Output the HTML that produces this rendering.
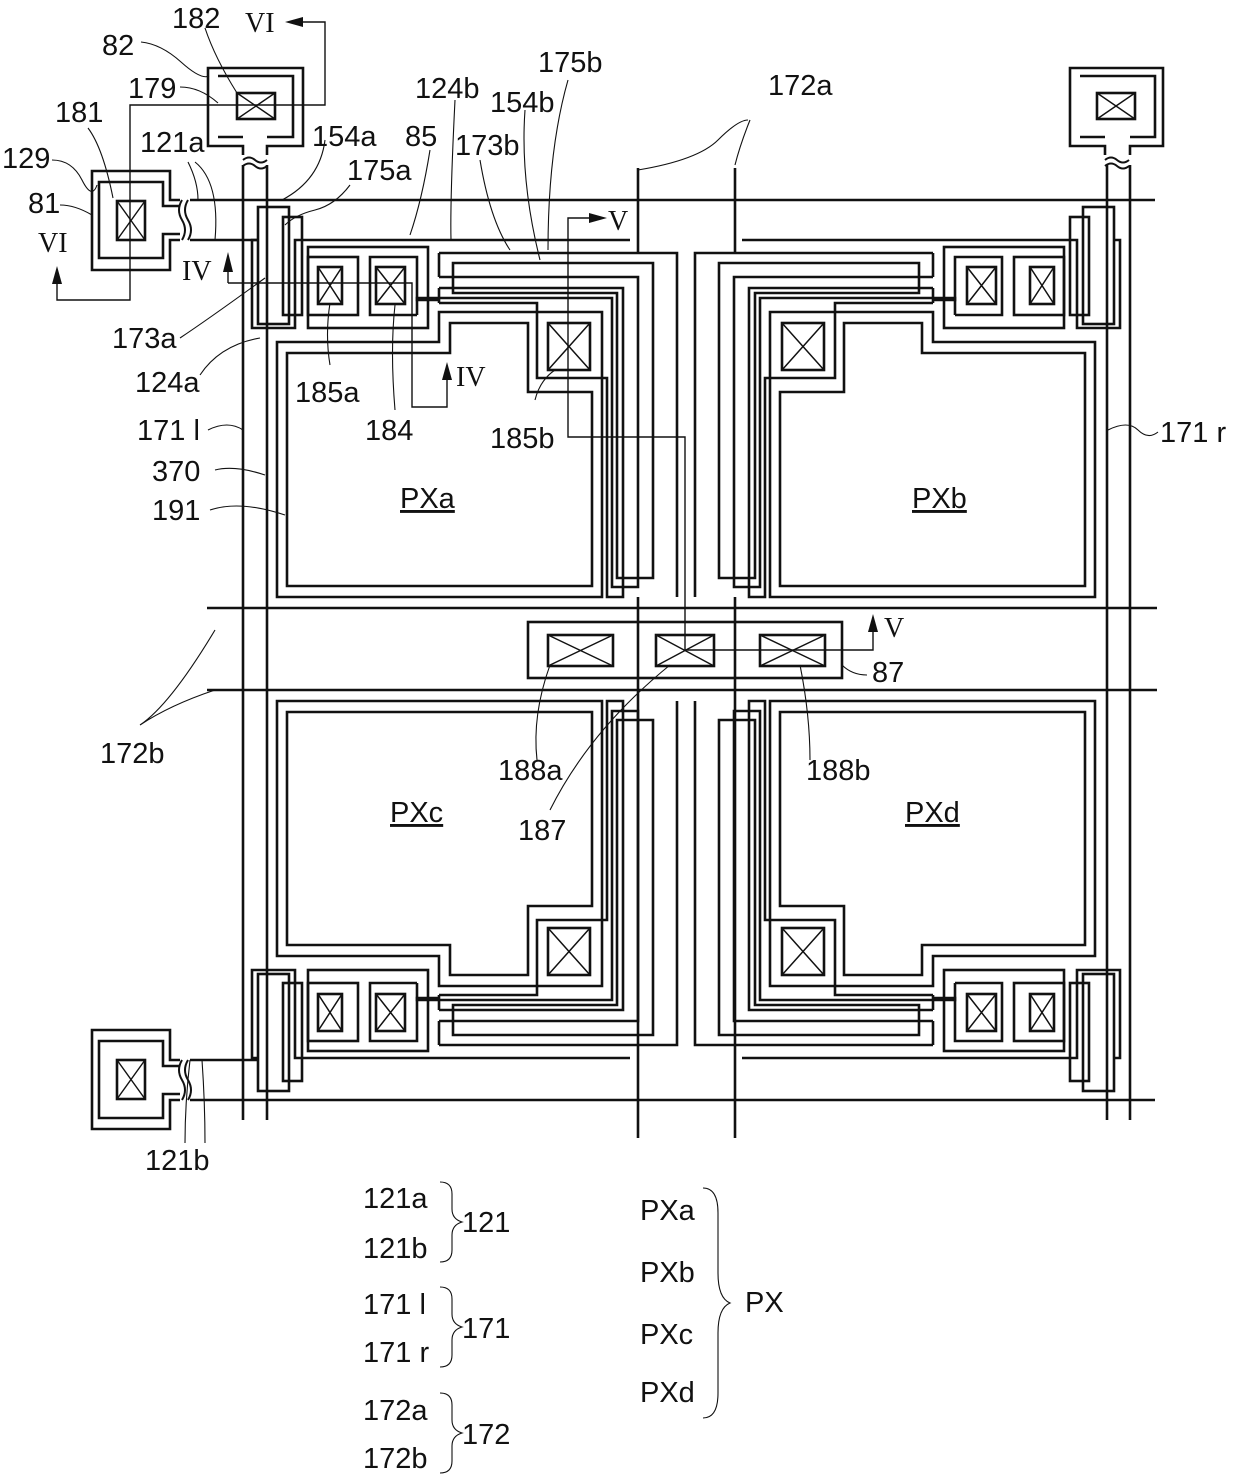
<!DOCTYPE html>
<html><head><meta charset="utf-8"><style>
html,body{margin:0;padding:0;background:#fff}
svg{display:block}
text{font-family:"Liberation Sans Narrow","Liberation Sans",sans-serif;font-size:29px;fill:#111}
.s{font-family:"Liberation Serif",serif;font-size:28px}
</style></head><body>
<svg width="1240" height="1479" viewBox="0 0 1240 1479" xmlns="http://www.w3.org/2000/svg">
<defs>
<g id="A" fill="none" stroke="#111" stroke-width="2.6">
  <polygon points="277,342 439,342 439,312 602,312 602,597 277,597"/>
  <polygon points="287,353 450,353 450,323 528,323 528,392 592,392 592,586 287,586"/>
  <rect x="548" y="323" width="42" height="47"/>
  <path d="M548,323L590,370M590,323L548,370" stroke-width="1.5"/>
  <polyline points="439,303 537,303 537,378 607,378 607,597 623,597 623,288 439,288"/>
  <polyline points="439,253 677,253 677,597"/>
  <polyline points="439,277 638,277 638,587 612,587 612,298 417,298 417,315"/>
  <polygon points="453,263 653,263 653,578 617,578 617,293 453,293"/>
  <line x1="439" y1="253" x2="439" y2="277"/>
  <line x1="439" y1="288" x2="439" y2="303"/>
  <polyline points="258,240 252,240 252,328 295,328 295,240 630,240"/>
  <rect x="258" y="207" width="31" height="117"/>
  <rect x="283" y="217" width="19" height="98"/>
  <rect x="308" y="247" width="120" height="81"/>
  <rect x="308" y="257" width="50" height="58"/>
  <polyline points="439,300 417,300 417,257 370,257 370,315 417,315"/>
  <rect x="318" y="267" width="24" height="37"/>
  <path d="M318,267L342,304M342,267L318,304" stroke-width="1.5"/>
  <rect x="376" y="267" width="29" height="37"/>
  <path d="M376,267L405,304M405,267L376,304" stroke-width="1.5"/>
</g>
</defs>

<g fill="none" stroke="#111" stroke-width="2.6">
  <line x1="190" y1="200" x2="1155" y2="200"/>
  <line x1="190" y1="1100" x2="1155" y2="1100"/>
  <line x1="190" y1="240" x2="258" y2="240"/>
  <line x1="190" y1="1060" x2="258" y2="1060"/>
  <line x1="207" y1="608" x2="1157" y2="608"/>
  <line x1="207" y1="690" x2="1157" y2="690"/>
  <line x1="243" y1="165" x2="243" y2="1120"/>
  <line x1="267" y1="165" x2="267" y2="1120"/>
  <line x1="1107" y1="165" x2="1107" y2="1120"/>
  <line x1="1130" y1="165" x2="1130" y2="1120"/>
  <polyline points="638,168 638,252"/>
  <polyline points="735,168 735,252"/>
  <line x1="638" y1="597" x2="638" y2="1138"/>
  <line x1="735" y1="597" x2="735" y2="1138"/>
  <rect x="528" y="622" width="314" height="56"/>
  <rect x="548" y="635" width="65" height="31"/>
  <rect x="656" y="635" width="58" height="31"/>
  <rect x="760" y="635" width="65" height="31"/>
  <path d="M548,635L613,666M613,635L548,666M656,635L714,666M714,635L656,666M760,635L825,666M825,635L760,666" stroke-width="1.4"/>
  <!-- pads -->
  <path d="M180,200H170V171H92V270H170V240H180"/>
  <path d="M180,206H163V182H99V258H163V234H180"/>
  <rect x="117" y="201" width="28" height="39"/>
  <path d="M117,201L145,240M145,201L117,240" stroke-width="1.4"/>
  <path d="M180,1060H170V1030H92V1129H170V1100H180"/>
  <path d="M180,1066H163V1041H99V1118H163V1094H180"/>
  <rect x="117" y="1060" width="28" height="39"/>
  <path d="M117,1060L145,1099M145,1060L117,1099" stroke-width="1.4"/>
  <path d="M243,155V146H208V68H303V146H267V155"/>
  <path d="M218,76H293V137H267M243,137H218Z"/>
  <rect x="237" y="93" width="38" height="26"/>
  <path d="M237,93L275,119M275,93L237,119" stroke-width="1.4"/>
  <path d="M1105,155V146H1070V68H1163V146H1130V155"/>
  <path d="M1080,76H1155V137H1130M1105,137H1080Z"/>
  <rect x="1097" y="93" width="38" height="26"/>
  <path d="M1097,93L1135,119M1135,93L1097,119" stroke-width="1.4"/>
  <path d="M243,160q6,-5 12,0t12,0M243,166q6,-5 12,0t12,0M1105,160q6,-5 12,0t12,0M1105,166q6,-5 12,0t12,0" stroke-width="2"/>
  <path d="M182,200q-6,10 0,20t0,20M188,200q-6,10 0,20t0,20M182,1060q-6,10 0,20t0,20M188,1060q-6,10 0,20t0,20" stroke-width="2"/>
</g>

<use href="#A"/>
<use href="#A" transform="translate(1372,0) scale(-1,1)"/>
<use href="#A" transform="translate(0,1298) scale(1,-1)"/>
<use href="#A" transform="translate(1372,1298) scale(-1,-1)"/>

<g fill="none" stroke="#111" stroke-width="1.4">
  <polyline points="228,283 412,283 412,407 447,407 447,375"/>
  <line x1="228" y1="283" x2="228" y2="262"/>
  <polyline points="595,218 568,218 568,437 685,437 685,650 873,650 873,628"/>
  <polyline points="300,22 325,22 325,105 130,105 130,300 57,300 57,280"/>
</g>
<g fill="#111">
  <polygon points="228,252 223,272 233,272"/>
  <polygon points="447,362 442,380 452,380"/>
  <polygon points="607,218 589,213 589,223"/>
  <polygon points="873,614 868,632 878,632"/>
  <polygon points="285,22 303,17 303,27"/>
  <polygon points="57,266 52,284 62,284"/>
</g>

<g fill="none" stroke="#111" stroke-width="1.1">
  <path d="M141,42q20,2 40,20t28,14"/>
  <path d="M205,28q10,30 32,65"/>
  <path d="M180,87q20,0 38,16"/>
  <path d="M88,128q15,20 25,70"/>
  <path d="M52,160q20,0 30,20t15,5"/>
  <path d="M60,205q15,0 32,10"/>
  <path d="M188,162q10,20 10,38M195,162q25,20 20,78"/>
  <path d="M325,140q-5,40 -43,60"/>
  <path d="M350,185q-15,20 -35,25t-30,15"/>
  <path d="M430,150q-8,50 -20,85"/>
  <path d="M455,100q-5,100 -4,140"/>
  <path d="M480,160q10,60 30,90"/>
  <path d="M525,110q-5,70 15,150"/>
  <path d="M568,80q-20,70 -20,170"/>
  <path d="M180,338q30,-20 85,-60"/>
  <path d="M200,375q20,-30 60,-37"/>
  <path d="M330,365q-5,-30 0,-62"/>
  <path d="M395,410q-5,-60 0,-105"/>
  <path d="M535,400q5,-20 20,-30"/>
  <path d="M208,430q20,-10 35,0"/>
  <path d="M215,470q20,-5 50,5"/>
  <path d="M210,510q30,-10 75,5"/>
  <path d="M638,170q60,-10 80,-30t30,-20"/>
  <path d="M735,165q5,-20 15,-45"/>
  <path d="M1108,430q20,-10 30,0t20,2"/>
  <path d="M140,725q30,-20 75,-95M140,725q30,-20 75,-35"/>
  <path d="M842,665q10,10 25,10"/>
  <path d="M537,760q-5,-45 13,-95"/>
  <path d="M550,810q40,-80 120,-145"/>
  <path d="M810,760q0,-45 -10,-95"/>
  <path d="M185,1143q0,-40 5,-83M205,1143q0,-40 -3,-83"/>
  <path d="M440,1182q12,0 12,12v15q0,10 10,13q-10,3 -10,13v15q0,12 -12,12"/>
  <path d="M440,1287q12,0 12,12v15q0,10 10,13q-10,3 -10,13v15q0,12 -12,12"/>
  <path d="M440,1393q12,0 12,12v15q0,10 10,13q-10,3 -10,13v15q0,12 -12,12"/>
  <path d="M703,1188q15,0 15,25v60q0,25 12,30q-12,5 -12,30v60q0,25 -15,25"/>
</g>

<text x="172" y="28">182</text>
<text class="s" x="245" y="32">VI</text>
<text x="102" y="55">82</text>
<text x="128" y="98">179</text>
<text x="55" y="122">181</text>
<text x="140" y="152">121a</text>
<text x="2" y="168">129</text>
<text x="28" y="213">81</text>
<text class="s" x="38" y="252">VI</text>
<text class="s" x="182" y="280">IV</text>
<text x="312" y="146">154a</text>
<text x="347" y="180">175a</text>
<text x="405" y="146">85</text>
<text x="415" y="98">124b</text>
<text x="455" y="155">173b</text>
<text x="490" y="112">154b</text>
<text x="538" y="72">175b</text>
<text x="768" y="95">172a</text>
<text class="s" x="608" y="230">V</text>
<text x="112" y="348">173a</text>
<text x="135" y="392">124a</text>
<text x="295" y="402">185a</text>
<text x="365" y="440">184</text>
<text x="490" y="448">185b</text>
<text class="s" x="456" y="386">IV</text>
<text x="137" y="440">171 l</text>
<text x="152" y="481">370</text>
<text x="152" y="520">191</text>
<text x="1160" y="442">171 r</text>
<text x="400" y="508" style="text-decoration:underline">PXa</text>
<text x="912" y="508" style="text-decoration:underline">PXb</text>
<text x="390" y="822" style="text-decoration:underline">PXc</text>
<text x="905" y="822" style="text-decoration:underline">PXd</text>
<text class="s" x="884" y="637">V</text>
<text x="872" y="682">87</text>
<text x="100" y="763">172b</text>
<text x="498" y="780">188a</text>
<text x="806" y="780">188b</text>
<text x="518" y="840">187</text>
<text x="145" y="1170">121b</text>
<text x="363" y="1208">121a</text>
<text x="363" y="1258">121b</text>
<text x="462" y="1232">121</text>
<text x="363" y="1314">171 l</text>
<text x="363" y="1362">171 r</text>
<text x="462" y="1338">171</text>
<text x="363" y="1420">172a</text>
<text x="363" y="1468">172b</text>
<text x="462" y="1444">172</text>
<text x="640" y="1220">PXa</text>
<text x="640" y="1282">PXb</text>
<text x="640" y="1344">PXc</text>
<text x="640" y="1402">PXd</text>
<text x="745" y="1312">PX</text>
</svg>
</body></html>
